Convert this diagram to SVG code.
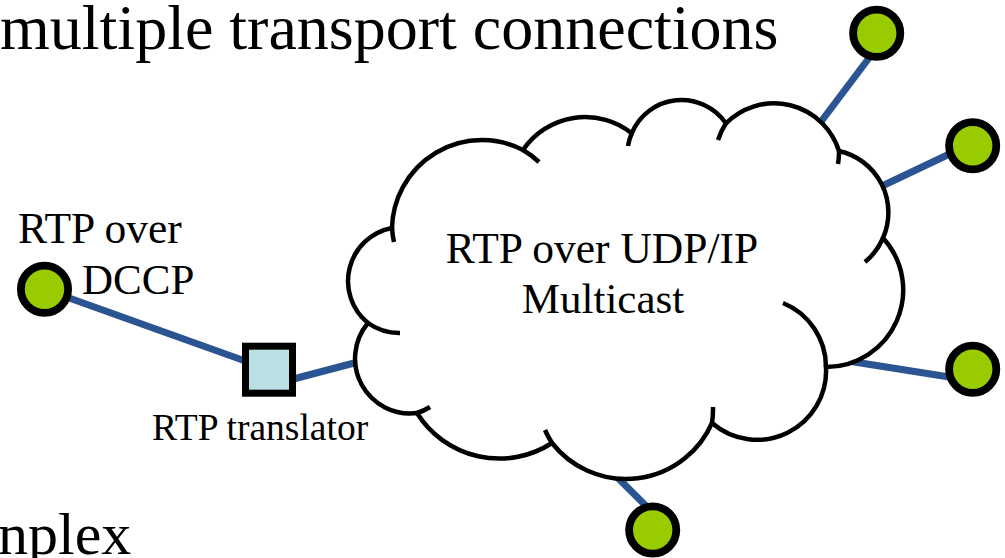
<svg xmlns="http://www.w3.org/2000/svg" width="1005" height="558" viewBox="0 0 1005 558">
<style>
  .bg{fill:#ffffff}
  .t{font-family:"Liberation Serif","Times New Roman",serif;fill:#000}
  .conn line{stroke:#2A5592;stroke-width:7;stroke-linecap:butt}
  .cloud{fill:#ffffff;stroke:#000;stroke-width:4.5;stroke-linejoin:miter}
  .tick{fill:none;stroke:#000;stroke-width:4.5;stroke-linecap:butt}
  .host{fill:#99CC00;stroke:#000;stroke-width:7.8}
  .trans{fill:#BBE0E3;stroke:#000;stroke-width:7}
</style>
<rect class="bg" x="0" y="0" width="1005" height="558"/>
<text class="t" x="0" y="49" font-size="64">multiple transport connections</text>
<text class="t" x="-2" y="554" font-size="60">nplex</text>

<g id="connectors" class="conn">
  <line x1="44" y1="289" x2="262" y2="367"/>
  <line x1="282" y1="382" x2="358" y2="362"/>
  <line x1="875" y1="50" x2="817" y2="127"/>
  <line x1="960" y1="149" x2="880" y2="187"/>
  <line x1="848" y1="361" x2="962" y2="379"/>
  <line x1="612" y1="472" x2="650" y2="510"/>
</g>

<g id="cloud">
  <path class="cloud" d="M392,228 A90,90 0 0 1 523,150 A75,75 0 0 1 631.7,133.3 A54,54 0 0 1 726,123.3 A68,68 0 0 1 839,151 A63,63 0 0 1 883,238 A77,77 0 0 1 826,367 A69,69 0 0 1 712,423 A94,94 0 0 1 552,443 A97,97 0 0 1 417,413 A55,55 0 0 1 368,323 A54,54 0 0 1 392,228 Z"/>
  <path class="tick" d="M394,242 A90,90 0 0 1 392,228 M523,150 A90,90 0 0 1 539,162 M628,146 A54,54 0 0 1 631.7,133.3 M718,140 A68,68 0 0 1 726,123.3 M839,151 A68,68 0 0 1 838,164 M883,238 A63,63 0 0 1 865,262 M783,303 A69,69 0 0 1 826,367 M713,407 A94,94 0 0 1 712,423 M552,443 A94,94 0 0 1 545,430 M430,407 A55,55 0 0 1 417,413 M400,333 A54,54 0 0 1 368,323"/>
  <text class="t" x="602" y="263" font-size="43.5" text-anchor="middle">RTP over UDP/IP</text>
  <text class="t" x="603" y="313" font-size="43" text-anchor="middle">Multicast</text>
</g>

<g id="node-dccp">
  <circle class="host" cx="44.5" cy="289.3" r="23.6"/>
  <text class="t" x="18" y="243" font-size="43.5">RTP over</text>
  <text class="t" x="82" y="294" font-size="43">DCCP</text>
</g>
<g id="node-translator">
  <rect class="trans" x="245.5" y="346.2" width="47" height="47"/>
  <text class="t" x="152" y="440" font-size="37.5">RTP translator</text>
</g>
<g id="node-top"><circle class="host" cx="876.7" cy="33.3" r="23.6"/></g>
<g id="node-right-upper"><circle class="host" cx="972.7" cy="145.7" r="23.6"/></g>
<g id="node-right-lower"><circle class="host" cx="972.7" cy="369.3" r="23.6"/></g>
<g id="node-bottom"><circle class="host" cx="652.7" cy="530" r="23.6"/></g>
</svg>
